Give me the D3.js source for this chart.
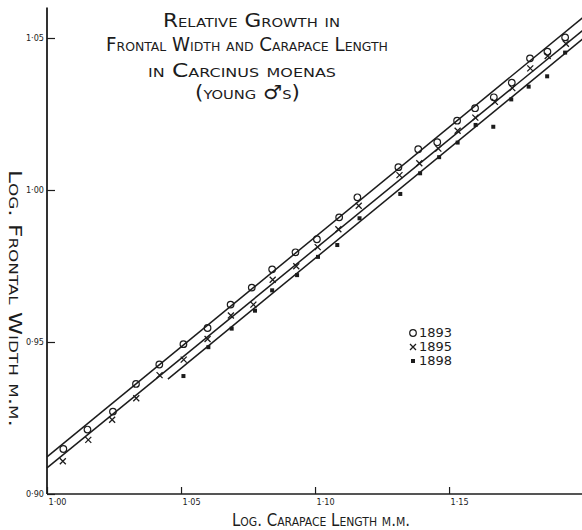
<!DOCTYPE html>
<html>
<head>
<meta charset="utf-8">
<script src="https://cdn.jsdelivr.net/npm/d3@7/dist/d3.min.js"></script>
<style>
  body { margin: 0; background: #fff; }
  svg { display: block; }
  text { font-family: "DejaVu Sans Condensed", "DejaVu Sans", sans-serif; fill: #1c1c1c; }
  .caps { font-variant: small-caps; }
  .tick text { font-size: 9px; }
</style>
</head>
<body>
<div id="wrapper"></div>
<script>
// log carapace length (x) / log frontal width (y)
const years = ["1893", "1895", "1898"]

const length1893 = [1.0061, 1.0151, 1.0246, 1.0332, 1.0419, 1.0509, 1.0599, 1.0685, 1.0764, 1.0840, 1.0927, 1.1007, 1.1090, 1.1158, 1.1311, 1.1385, 1.1456, 1.1530, 1.1597, 1.1667, 1.1734, 1.1802, 1.1867, 1.1933]
const width1893 = [0.9148, 0.9212, 0.9271, 0.9362, 0.9426, 0.9493, 0.9546, 0.9623, 0.9679, 0.9739, 0.9795, 0.9838, 0.9910, 0.9976, 1.0075, 1.0134, 1.0157, 1.0228, 1.0269, 1.0305, 1.0353, 1.0433, 1.0455, 1.0502]

const length1895 = [1.0059, 1.0154, 1.0243, 1.0333, 1.0420, 1.0510, 1.0599, 1.0686, 1.0770, 1.0842, 1.0930, 1.1010, 1.1087, 1.1163, 1.1315, 1.1389, 1.1460, 1.1532, 1.1598, 1.1671, 1.1736, 1.1803, 1.1868, 1.1936]
const width1895 = [0.9108, 0.9178, 0.9244, 0.9315, 0.9391, 0.9442, 0.9510, 0.9587, 0.9623, 0.9705, 0.9749, 0.9812, 0.9871, 0.9948, 1.0049, 1.0088, 1.0136, 1.0195, 1.0238, 1.0290, 1.0335, 1.0400, 1.0441, 1.0481]

const length1898 = [1.0509, 1.0602, 1.0689, 1.0776, 1.0840, 1.0933, 1.1011, 1.1083, 1.1166, 1.1318, 1.1392, 1.1463, 1.1532, 1.1599, 1.1665, 1.1732, 1.1797, 1.1866, 1.1933]
const width1898 = [0.9388, 0.9483, 0.9544, 0.9603, 0.9670, 0.9720, 0.9780, 0.9819, 0.9907, 0.9987, 1.0055, 1.0108, 1.0156, 1.0214, 1.0208, 1.0298, 1.0340, 1.0374, 1.0452]

// fitted lines: [start, end]
const fitLength1893 = [1.00, 1.20]
const fitWidth1893 = [0.9122, 1.0568]
const fitLength1895 = [1.00, 1.20]
const fitWidth1895 = [0.9086, 1.0526]
const fitLength1898 = [1.0451, 1.20]
const fitWidth1898 = [0.9378, 1.0498]

const xTicks = [1.00, 1.05, 1.10, 1.15]
const yTicks = [0.90, 0.95, 1.00, 1.05]

const titleLines = ["Relative Growth in", "Frontal Width and Carapace Length", "in Carcinus moenas", "(young \u2642s)"]
const xLabel = "Log. Carapace Length m.m."
const yLabel = "Log. Frontal Width m.m."

function drawChart() {

  const series = [
    { year: years[0], marker: "circle", xs: length1893, ys: width1893, fx: fitLength1893, fy: fitWidth1893 },
    { year: years[1], marker: "cross", xs: length1895, ys: width1895, fx: fitLength1895, fy: fitWidth1895 },
    { year: years[2], marker: "square", xs: length1898, ys: width1898, fx: fitLength1898, fy: fitWidth1898 },
  ]

  // 1. dimensions
  let dimensions = {
    width: 582,
    height: 530,
    margin: { top: 38, right: 0, bottom: 36, left: 47 },
  }
  dimensions.boundedWidth = dimensions.width - dimensions.margin.left - dimensions.margin.right
  dimensions.boundedHeight = dimensions.height - dimensions.margin.top - dimensions.margin.bottom

  const ink = "#1c1c1c"

  // 2. canvas
  const wrapper = d3.select("#wrapper")
    .append("svg")
      .attr("width", dimensions.width)
      .attr("height", dimensions.height)

  wrapper.append("rect")
      .attr("width", dimensions.width)
      .attr("height", dimensions.height)
      .attr("fill", "#fff")

  const bounds = wrapper.append("g")
      .attr("transform", `translate(${dimensions.margin.left},${dimensions.margin.top})`)

  // 3. scales
  const xScale = d3.scaleLinear()
    .domain([1.00, 1.1996])
    .range([0, dimensions.boundedWidth])

  const yScale = d3.scaleLinear()
    .domain([0.90, 1.05])
    .range([dimensions.boundedHeight, 0])

  // 4. fitted lines
  const lineGen = d3.line()
    .x(d => xScale(d[0]))
    .y(d => yScale(d[1]))

  bounds.selectAll(".fit")
    .data(series)
    .enter().append("path")
      .attr("class", "fit")
      .attr("d", s => lineGen(d3.zip(s.fx, s.fy)))
      .attr("fill", "none")
      .attr("stroke", ink)
      .attr("stroke-width", 1.5)

  // 5. points
  const drawMarker = (sel, type) => {
    if (type === "circle") {
      sel.append("circle")
          .attr("r", 3.3)
          .attr("fill", "none")
          .attr("stroke", ink)
          .attr("stroke-width", 1.2)
    } else if (type === "cross") {
      sel.append("path")
          .attr("d", "M-3,-3L3,3M3,-3L-3,3")
          .attr("stroke", ink)
          .attr("stroke-width", 1.3)
    } else {
      sel.append("rect")
          .attr("x", -2)
          .attr("y", -2)
          .attr("width", 4)
          .attr("height", 4)
          .attr("fill", ink)
    }
  }

  series.forEach(s => {
    const pts = bounds.append("g")
      .selectAll("g")
      .data(d3.zip(s.xs, s.ys))
      .enter().append("g")
        .attr("transform", d => `translate(${xScale(d[0])},${yScale(d[1])})`)
    drawMarker(pts, s.marker)
  })

  // 6. axes
  const fmt = d => d3.format(".2f")(d).replace(".", "\u00b7")

  const xAxis = bounds.append("g")
      .attr("transform", `translate(0,${dimensions.boundedHeight})`)
      .call(d3.axisBottom(xScale).tickValues(xTicks).tickSize(-7).tickPadding(5).tickFormat(fmt))
  xAxis.select(".domain").remove()
  xAxis.selectAll(".tick line").attr("stroke", ink).attr("stroke-width", 1.2)
  xAxis.selectAll(".tick text")
      .attr("text-anchor", "start")
      .attr("x", 1)
      .attr("fill", "#333")

  xAxis.append("line")
      .attr("x1", xScale(1.00))
      .attr("x2", dimensions.boundedWidth)
      .attr("stroke", ink)
      .attr("stroke-width", 1.5)

  const yAxis = bounds.append("g")
      .call(d3.axisLeft(yScale).tickValues(yTicks).tickSize(-8).tickPadding(3).tickFormat(fmt))
  yAxis.select(".domain").remove()
  yAxis.selectAll(".tick line").attr("stroke", ink).attr("stroke-width", 1.2)
  yAxis.selectAll(".tick text").attr("fill", "#333")

  yAxis.append("line")
      .attr("y1", yScale(0.90))
      .attr("y2", yScale(1.06))
      .attr("stroke", ink)
      .attr("stroke-width", 1.8)

  // axis labels
  wrapper.append("text")
      .attr("class", "caps")
      .attr("x", 232)
      .attr("y", 526)
      .attr("font-size", 18)
      .attr("textLength", 178)
      .attr("lengthAdjust", "spacingAndGlyphs")
      .text(xLabel)

  wrapper.append("text")
      .attr("class", "caps")
      .attr("transform", "translate(9,170) rotate(90)")
      .attr("font-size", 18)
      .attr("textLength", 257)
      .attr("lengthAdjust", "spacingAndGlyphs")
      .text(yLabel)

  // 7. title
  const titleLayout = [
    { x: 163, y: 27, w: 177 },
    { x: 106, y: 51, w: 282 },
    { x: 148, y: 77, w: 188 },
    { x: 195, y: 99, w: 105 },
  ]
  wrapper.append("g")
    .selectAll("text")
    .data(titleLines)
    .enter().append("text")
      .attr("class", "caps")
      .attr("x", (d, i) => titleLayout[i].x)
      .attr("y", (d, i) => titleLayout[i].y)
      .attr("font-size", 19)
      .attr("textLength", (d, i) => titleLayout[i].w)
      .attr("lengthAdjust", "spacingAndGlyphs")
      .text(d => d)

  // 8. legend
  const legend = wrapper.append("g")
      .attr("transform", "translate(413,333)")

  const rows = legend.selectAll("g")
    .data(series)
    .enter().append("g")
      .attr("transform", (d, i) => `translate(0,${i * 14})`)

  rows.each(function(s) { drawMarker(d3.select(this), s.marker) })

  rows.append("text")
      .attr("x", 6)
      .attr("dy", "0.36em")
      .attr("font-size", 12)
      .attr("textLength", 33)
      .attr("lengthAdjust", "spacingAndGlyphs")
      .text(s => s.year)
}
drawChart()
</script>
</body>
</html>
